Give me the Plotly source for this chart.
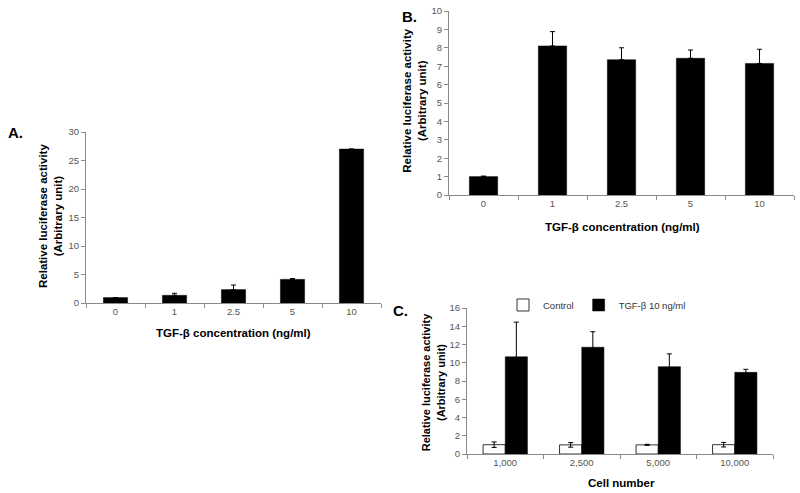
import plotly.graph_objects as go

W, H = 800, 493

# ---- data ----
conc_labels = ["0", "1", "2.5", "5", "10"]
a_values = [0.95, 1.35, 2.35, 4.15, 27.0]
a_errors = [0.0, 0.35, 0.8, 0.15, 0.0]

b_values = [1.0, 8.1, 7.35, 7.43, 7.15]
b_errors = [0.03, 0.78, 0.65, 0.45, 0.77]

cell_labels = ["1,000", "2,500", "5,000", "10,000"]
c_control = [1.02, 1.0, 1.0, 1.02]
c_control_err = [0.3, 0.25, 0.06, 0.25]
c_tgf = [10.65, 11.7, 9.57, 8.95]
c_tgf_err = [3.8, 1.7, 1.4, 0.33]

FONT = "Liberation Sans, Arial, sans-serif"
AXCOL = "#8a8a8a"
TICKCOL = "#555555"


def px(x):
    return x / W


def py(y):
    return 1 - y / H


fig = go.Figure()

err_style = dict(type="data", thickness=1, width=2.5, color="black")

fig.add_trace(go.Bar(x=conc_labels, y=a_values, width=0.41, offset=-0.205,
                     marker=dict(color="black", line=dict(color="black", width=0.5)),
                     error_y=dict(array=a_errors, arrayminus=[0]*5, **err_style),
                     xaxis="x", yaxis="y", showlegend=False))
fig.add_trace(go.Bar(x=conc_labels, y=b_values, width=0.41, offset=-0.205,
                     marker=dict(color="black", line=dict(color="black", width=0.5)),
                     error_y=dict(array=b_errors, arrayminus=[0]*5, **err_style),
                     xaxis="x2", yaxis="y2", showlegend=False))
fig.add_trace(go.Bar(x=cell_labels, y=c_control, width=0.29, offset=-0.29, name="Control",
                     marker=dict(color="white", line=dict(color="black", width=0.8)),
                     error_y=dict(array=c_control_err, **err_style),
                     xaxis="x3", yaxis="y3"))
fig.add_trace(go.Bar(x=cell_labels, y=c_tgf, width=0.29, offset=0.0, name="TGF-β 10 ng/ml",
                     marker=dict(color="black", line=dict(color="black", width=0.5)),
                     error_y=dict(array=c_tgf_err, **err_style),
                     xaxis="x3", yaxis="y3"))

xcommon = dict(type="category", showline=True, linecolor=AXCOL, linewidth=1,
               ticks="outside", tickson="boundaries", ticklen=4, tickcolor=AXCOL,
               showgrid=False, zeroline=False, automargin=False,
               tickfont=dict(family=FONT, size=9.5, color=TICKCOL), fixedrange=True)
ycommon = dict(showline=True, linecolor=AXCOL, linewidth=1, ticks="outside", ticklen=4,
               tickcolor=AXCOL, showgrid=False, zeroline=False, automargin=False,
               tickfont=dict(family=FONT, size=9.5, color=TICKCOL), fixedrange=True)

fig.update_layout(
    width=W, height=H, margin=dict(l=0, r=0, t=0, b=0, autoexpand=False),
    paper_bgcolor="white", plot_bgcolor="white",
    barmode="group",
    font=dict(family=FONT, color="black"),
    xaxis=dict(domain=[px(86), px(381)], range=[-0.5, 4.5], anchor="y", **xcommon),
    yaxis=dict(domain=[py(303), py(132)], range=[0, 30], dtick=5, anchor="x", **ycommon),
    xaxis2=dict(domain=[px(449), px(794)], range=[-0.5, 4.5], anchor="y2", **xcommon),
    yaxis2=dict(domain=[py(195), py(11)], range=[0, 10], dtick=1, anchor="x2", **ycommon),
    xaxis3=dict(domain=[px(467), px(773)], range=[-0.5, 3.5], anchor="y3", **xcommon),
    yaxis3=dict(domain=[py(454), py(308)], range=[0, 16], dtick=2, anchor="x3", **ycommon),
    legend=dict(orientation="h", x=px(597), y=py(305), xanchor="center", yanchor="middle",
                font=dict(family=FONT, size=9.5, color="#333333"), itemwidth=30,
                bgcolor="rgba(0,0,0,0)", traceorder="normal"),
)

ytitle = "Relative luciferase activity<br>(Arbitrary unit)"
xtitle = "TGF-β concentration (ng/ml)"

annots = [
    dict(text="<b>A.</b>", x=px(15), y=py(132), size=15),
    dict(text="<b>B.</b>", x=px(409), y=py(17), size=15),
    dict(text="<b>C.</b>", x=px(400), y=py(310), size=15),
    dict(text="<b>" + ytitle + "</b>", x=px(50), y=py(216), size=11.5, angle=-90),
    dict(text="<b>" + ytitle + "</b>", x=px(413.7), y=py(101), size=11.5, angle=-90),
    dict(text="<b>" + ytitle + "</b>", x=px(433.3), y=py(382), size=11, angle=-90),
    dict(text="<b>" + xtitle + "</b>", x=px(233), y=py(333), size=11.5),
    dict(text="<b>" + xtitle + "</b>", x=px(622), y=py(227), size=11.5),
    dict(text="<b>Cell number</b>", x=px(621), y=py(483), size=11.5),
]
for a in annots:
    fig.add_annotation(text=a["text"], x=a["x"], y=a["y"], xref="paper", yref="paper",
                       xanchor="center", yanchor="middle", showarrow=False,
                       textangle=a.get("angle", 0),
                       font=dict(family=FONT, size=a["size"], color="black"))

fig.write_html("out.html", config={"displayModeBar": False},
               post_script="document.body.style.margin='0';document.body.style.overflow='hidden';")
